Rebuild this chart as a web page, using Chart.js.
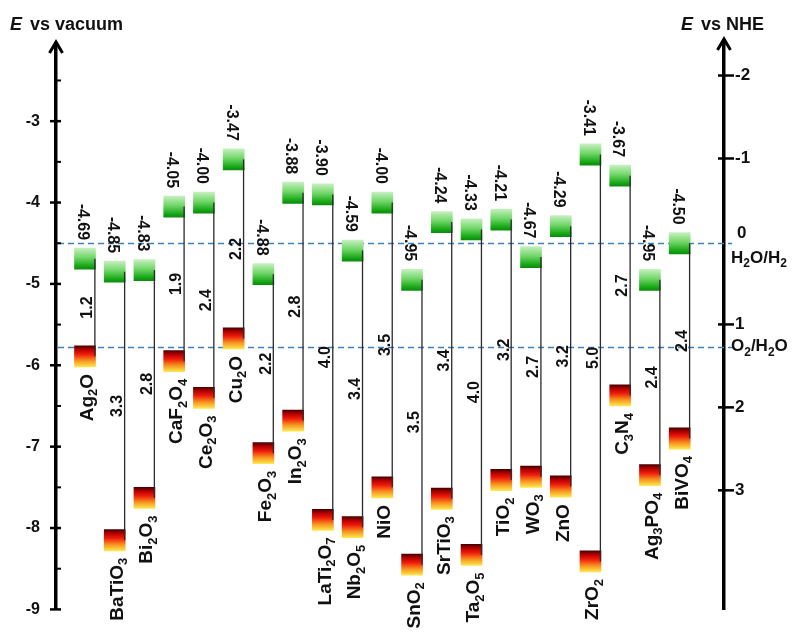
<!DOCTYPE html>
<html>
<head>
<meta charset="utf-8">
<script src="https://cdn.jsdelivr.net/npm/chart.js@4.4.1/dist/chart.umd.min.js"></script>
<style>
  html, body { margin: 0; padding: 0; background: #fff; }
  canvas { display: block; }
</style>
</head>
<body>
<canvas id="bands" width="793" height="635" style="width:793px;height:635px"></canvas>
<script>
// Band edges of common photocatalysts (energies in eV vs vacuum)
const materials = ['Ag2O', 'BaTiO3', 'Bi2O3', 'CaF2O4', 'Ce2O3', 'Cu2O', 'Fe2O3', 'In2O3',
  'LaTi2O7', 'Nb2O5', 'NiO', 'SnO2', 'SrTiO3', 'Ta2O5', 'TiO2', 'WO3', 'ZnO', 'ZrO2',
  'C3N4', 'Ag3PO4', 'BiVO4'];
const conductionBand = [-4.69, -4.85, -4.83, -4.05, -4.00, -3.47, -4.88, -3.88, -3.90, -4.59,
  -4.00, -4.95, -4.24, -4.33, -4.21, -4.67, -4.29, -3.41, -3.67, -4.95, -4.50];
const bandGap = [1.2, 3.3, 2.8, 1.9, 2.4, 2.2, 2.2, 2.8, 4.0, 3.4, 3.5, 3.5, 3.4, 4.0, 3.2,
  2.7, 3.2, 5.0, 2.7, 2.4, 2.4];
const vacuumTicks = [-9, -8, -7, -6, -5, -4, -3];
const nheTicks = [-2, -1, 1, 2, 3];
const redoxLevels = [-4.50, -5.78];          // on the vacuum scale
const redoxNames = ['H2O/H2', 'O2/H2O'];

const valenceBand = conductionBand.map((cb, i) => +(cb - bandGap[i]).toFixed(2));

const FONT = '"Liberation Sans", Arial, Helvetica, sans-serif';
const BOX_HALF = 0.13;   // half height of a band-edge box, eV

const greenStops = [[0, '#c6f0bf'], [0.45, '#70d667'], [0.85, '#16a716'], [1, '#0c8c0c']];
const fireStops = [[0, '#4a0000'], [0.18, '#b40000'], [0.4, '#ee1b0b'], [0.7, '#f7911f'], [1, '#fde84e']];

function boxFill(levels, stops) {
  return (ctx) => {
    const chart = ctx.chart;
    if (!chart.chartArea || ctx.dataIndex === undefined) return stops[stops.length - 1][1];
    const ys = chart.scales.y;
    const v = levels[ctx.dataIndex];
    const top = ys.getPixelForValue(v + BOX_HALF);
    const bottom = ys.getPixelForValue(v - BOX_HALF);
    const g = chart.ctx.createLinearGradient(0, top, 0, bottom);
    stops.forEach(([o, c]) => g.addColorStop(o, c));
    return g;
  };
}

// Text with digits set as subscripts, drawn along a rotated baseline
function drawFormula(ctx, text, x, y, angle, align, size, subDigits) {
  const runs = [];
  for (const ch of text) {
    const sub = subDigits && /[0-9]/.test(ch);
    const last = runs[runs.length - 1];
    if (last && last.sub === sub) last.t += ch; else runs.push({ t: ch, sub });
  }
  const fMain = `bold ${size}px ${FONT}`;
  const fSub = `bold ${Math.round(size * 0.68)}px ${FONT}`;
  let total = 0;
  runs.forEach(r => { ctx.font = r.sub ? fSub : fMain; r.w = ctx.measureText(r.t).width; total += r.w; });
  ctx.save();
  ctx.translate(x, y);
  ctx.rotate(angle);
  ctx.textAlign = 'left';
  ctx.textBaseline = 'alphabetic';
  let cx = align === 'right' ? -total : (align === 'center' ? -total / 2 : 0);
  const base = size * 0.36;
  runs.forEach(r => {
    ctx.font = r.sub ? fSub : fMain;
    ctx.fillText(r.t, cx, base + (r.sub ? size * 0.24 : 0));
    cx += r.w;
  });
  ctx.restore();
}

const bandDecor = {
  id: 'bandDecor',
  beforeDatasetsDraw(chart) {
    const { ctx, chartArea: a, scales: { y } } = chart;
    ctx.save();
    ctx.strokeStyle = '#3f7fba';
    ctx.lineWidth = 1.5;
    ctx.setLineDash([6, 4]);
    redoxLevels.forEach(v => {
      const py = Math.round(y.getPixelForValue(v)) + 0.5;
      ctx.beginPath();
      ctx.moveTo(a.left + 2, py);
      ctx.lineTo(a.right + 8, py);
      ctx.stroke();
    });
    ctx.restore();
  },
  afterDatasetsDraw(chart) {
    const { ctx, chartArea: a, scales: { y, y2 } } = chart;
    const cbMeta = chart.getDatasetMeta(0);

    // connectors from conduction band to valence band, on the box's right edge
    ctx.save();
    ctx.strokeStyle = '#2b2b2b';
    ctx.lineWidth = 1.3;
    cbMeta.data.forEach((bar, i) => {
      const lx = bar.x + bar.width / 2 - 0.6;
      ctx.beginPath();
      ctx.moveTo(lx, y.getPixelForValue(conductionBand[i]));
      ctx.lineTo(lx, y.getPixelForValue(valenceBand[i]));
      ctx.stroke();
    });
    ctx.restore();

    ctx.save();
    ctx.fillStyle = '#111';
    cbMeta.data.forEach((bar, i) => {
      const cx = bar.x;
      const lx = bar.x + bar.width / 2;
      const cbTop = y.getPixelForValue(conductionBand[i] + BOX_HALF);
      const vbBottom = y.getPixelForValue(valenceBand[i] - BOX_HALF);
      const mid = (y.getPixelForValue(conductionBand[i]) + y.getPixelForValue(valenceBand[i])) / 2;
      // conduction band value above the green box
      drawFormula(ctx, conductionBand[i].toFixed(2), cx - 1, cbTop - 8, Math.PI / 2, 'right', 16, false);
      // band gap beside the connector
      drawFormula(ctx, bandGap[i].toFixed(1), lx - 9, mid, -Math.PI / 2, 'center', 16, false);
      // material below the valence band box
      drawFormula(ctx, materials[i], cx + 1, vbBottom + 7, -Math.PI / 2, 'right', 19, true);
    });
    ctx.restore();

    // axis ticks: majors cross the axis, minors on the inside
    ctx.save();
    ctx.strokeStyle = '#000';
    ctx.lineCap = 'butt';
    y.ticks.forEach(t => {
      const py = y.getPixelForValue(t.value);
      ctx.lineWidth = 2.5;
      ctx.beginPath(); ctx.moveTo(a.left - 6, py); ctx.lineTo(a.left + 5, py); ctx.stroke();
      const half = t.value + 0.5;
      if (half <= y.max) {
        const ph = y.getPixelForValue(half);
        ctx.lineWidth = 2;
        ctx.beginPath(); ctx.moveTo(a.left, ph); ctx.lineTo(a.left + 5, ph); ctx.stroke();
      }
    });
    y2.ticks.forEach(t => {
      const py = y2.getPixelForValue(t.value);
      ctx.lineWidth = 2.5;
      ctx.beginPath(); ctx.moveTo(a.right - 6, py); ctx.lineTo(a.right + 10, py); ctx.stroke();
    });

    // arrowheads on both energy axes
    ctx.lineWidth = 3;
    ctx.lineJoin = 'miter';
    [[a.left, a.top - 2], [a.right, a.top - 5]].forEach(([ax, tip]) => {
      ctx.beginPath(); ctx.moveTo(ax, a.top + 1); ctx.lineTo(ax, tip); ctx.stroke();
      ctx.beginPath();
      ctx.moveTo(ax - 6.5, tip + 11);
      ctx.lineTo(ax, tip);
      ctx.lineTo(ax + 6.5, tip + 11);
      ctx.stroke();
    });
    ctx.restore();

    // axis titles
    ctx.save();
    ctx.fillStyle = '#111';
    ctx.textBaseline = 'middle';
    ctx.textAlign = 'left';
    const title = (x, rest) => {
      ctx.font = `italic bold 18px ${FONT}`;
      ctx.fillText('E', x, 25);
      const w = ctx.measureText('E').width;
      ctx.font = `bold 18px ${FONT}`;
      ctx.fillText(rest, x + w + 8, 25);
    };
    title(10, 'vs vacuum');
    title(681, 'vs NHE');
    ctx.restore();

    // water redox levels on the NHE side
    ctx.save();
    ctx.fillStyle = '#111';
    const h2 = y.getPixelForValue(redoxLevels[0]);
    const o2 = y.getPixelForValue(redoxLevels[1]);
    ctx.font = `bold 17px ${FONT}`;
    ctx.textBaseline = 'middle';
    ctx.fillText('0', a.right + 13, h2 - 10);
    drawFormula(ctx, redoxNames[0], a.right + 7, h2 + 14, 0, 'left', 17, true);
    drawFormula(ctx, redoxNames[1], a.right + 7, o2 - 2, 0, 'left', 17, true);
    ctx.restore();
  }
};

// NHE scale as drawn beside the plot: 0 V sits at 246 px, 84.96 px per volt
const plotTop = 44, plotBottom = 623;
const nheZeroPx = 246.2, nhePxPerVolt = 84.96;

new Chart(document.getElementById('bands'), {
  type: 'bar',
  data: {
    datasets: [
      {
        label: 'CB',
        data: conductionBand.map((v, i) => ({ x: i, y: [v - BOX_HALF, v + BOX_HALF] })),
        backgroundColor: boxFill(conductionBand, greenStops),
        barThickness: 21,
        grouped: false,
        borderWidth: 0
      },
      {
        label: 'VB',
        data: valenceBand.map((v, i) => ({ x: i, y: [v - BOX_HALF, v + BOX_HALF] })),
        backgroundColor: boxFill(valenceBand, fireStops),
        barThickness: 21,
        grouped: false,
        borderWidth: 0
      }
    ]
  },
  options: {
    responsive: false,
    animation: false,
    events: [],
    layout: { padding: { top: plotTop, bottom: 635 - plotBottom, left: 0, right: 0 } },
    plugins: { legend: { display: false }, tooltip: { enabled: false } },
    scales: {
      x: {
        type: 'linear',
        display: false,
        offset: false,
        grid: { offset: false },
        min: -0.975,
        max: 21.49
      },
      y: {
        position: 'left',
        min: -9,
        max: -9 + (plotBottom - plotTop) / 83.33,
        afterBuildTicks: s => { s.ticks = vacuumTicks.map(v => ({ value: v })); },
        afterFit: s => { s.width = 56; },
        grid: { display: false, drawTicks: false },
        border: { display: true, color: '#000', width: 3.5 },
        ticks: {
          padding: 16,
          color: '#111',
          font: { family: FONT, size: 16, weight: 'bold' },
          callback: v => String(v)
        }
      },
      y2: {
        position: 'right',
        reverse: true,
        min: (plotTop - nheZeroPx) / nhePxPerVolt,
        max: (plotBottom - nheZeroPx) / nhePxPerVolt,
        afterBuildTicks: s => { s.ticks = nheTicks.map(v => ({ value: v })); },
        afterFit: s => { s.width = 69; },
        grid: { display: false, drawTicks: false },
        border: { display: true, color: '#000', width: 3.5 },
        ticks: {
          padding: 11,
          color: '#111',
          font: { family: FONT, size: 17, weight: 'bold' },
          callback: v => String(v)
        }
      }
    }
  },
  plugins: [bandDecor]
});
</script>
</body>
</html>
